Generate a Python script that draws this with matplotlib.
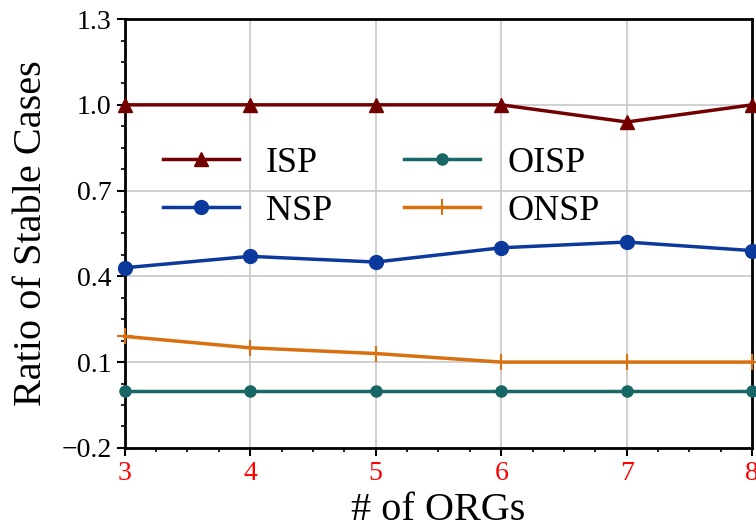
import matplotlib
matplotlib.use("Agg")
import matplotlib.pyplot as plt
from matplotlib.ticker import AutoMinorLocator

plt.rcParams['font.family'] = ['Liberation Serif', 'DejaVu Serif']

orgs = [3, 4, 5, 6, 7, 8]
isp = [1.0, 1.0, 1.0, 1.0, 0.94, 1.0]
nsp = [0.43, 0.47, 0.45, 0.50, 0.52, 0.49]
oisp = [0.0, 0.0, 0.0, 0.0, 0.0, 0.0]
onsp = [0.19, 0.15, 0.13, 0.10, 0.10, 0.10]
yticks = [-0.2, 0.1, 0.4, 0.7, 1.0, 1.3]
yticklabels = ['\u22120.2', '0.1', '0.4', '0.7', '1.0', '1.3']

fig = plt.figure(figsize=(7.56, 5.30), dpi=100)
ax = fig.add_axes([0.165, 0.155, 0.83, 0.809])

ax.plot(orgs, isp, color='#730000', lw=2.5, marker='^', ms=10, label='ISP', clip_on=False, zorder=3)
ax.plot(orgs, nsp, color='#0B3A9C', lw=2.5, marker='o', ms=10, label='NSP', clip_on=False, zorder=3)
ax.plot(orgs, oisp, color='#176767', lw=2.5, marker='o', ms=8, label='OISP', clip_on=False, zorder=3)
ax.plot(orgs, onsp, color='#D9700F', lw=2.5, marker='+', ms=11, mew=1.5, label='ONSP', clip_on=False, zorder=3)

ax.set_xlim(3, 8)
ax.set_ylim(-0.2, 1.3)
ax.set_yticks(yticks)
ax.set_yticklabels(yticklabels)
ax.xaxis.set_minor_locator(AutoMinorLocator(4))
ax.yaxis.set_minor_locator(AutoMinorLocator(4))
ax.tick_params(axis='both', which='major', labelsize=20, length=6, width=1.5, direction='out')
ax.tick_params(axis='both', which='minor', length=3, width=1.2, direction='out')
for lbl in ax.get_xticklabels():
    lbl.set_color('red')
ax.grid(True, which='major', color='#c8c8c8', lw=1.2)
ax.set_axisbelow(True)
for s in ax.spines.values():
    s.set_linewidth(2)

ax.set_xlabel('# of ORGs', fontsize=29, labelpad=4)
ax.set_ylabel('Ratio of Stable Cases', fontsize=29, labelpad=8)

leg = ax.legend(ncol=2, frameon=False, fontsize=26, handlelength=2.1, handletextpad=0.75,
                columnspacing=2.0, labelspacing=0.4, numpoints=1, borderpad=0, borderaxespad=0,
                loc='center left', bbox_to_anchor=(0.061, 0.608))

fig.savefig('out.png', dpi=100)
